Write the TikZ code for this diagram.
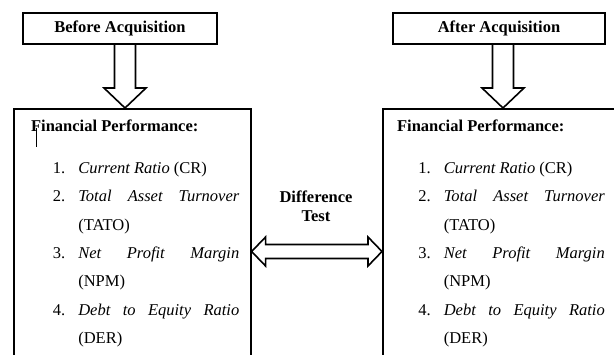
\documentclass[tikz,border=0pt]{standalone}
\usepackage{fontspec}
\setmainfont{Liberation Serif}
\usepackage{array}
\usetikzlibrary{calc}

\newcommand{\mainsz}{\fontsize{16.5}{28.3}\selectfont}
\newcommand{\jline}[1]{\makebox[161pt][s]{#1}}
\newcommand{\perflist}{%
  \begin{tabular}[t]{@{}p{25.5pt}@{}p{161pt}@{}}
  1. & \textit{Current Ratio} (CR)\\
  2. & \jline{\textit{Total Asset Turnover}}\\
     & (TATO)\\
  3. & \jline{\textit{Net Profit Margin}}\\
     & (NPM)\\
  4. & \jline{\textit{Debt to Equity Ratio}}\\
     & (DER)
  \end{tabular}}
% hollow block arrows
\newcommand{\downblock}[2]{%
  \draw[block arrow] ($(#1)+(-10.5,0)$) -- ($(#2)+(-10.5,-20)$) -- ($(#2)+(-21,-20)$) -- (#2)
    -- ($(#2)+(21,-20)$) -- ($(#2)+(10.5,-20)$) -- ($(#1)+(10.5,0)$);}
\newcommand{\twoblock}[2]{%
  \draw[block arrow] (#1) -- ($(#1)+(14,-14.5)$) -- ($(#1)+(14,-7)$) -- ($(#2)+(-14,-7)$)
    -- ($(#2)+(-14,-14.5)$) -- (#2) -- ($(#2)+(-14,14.5)$) -- ($(#2)+(-14,7)$)
    -- ($(#1)+(14,7)$) -- ($(#1)+(14,14.5)$) -- cycle;}

\begin{document}
\begin{tikzpicture}[x=1pt,y=-1pt,line width=1.6pt,
    every node/.style={font=\mainsz},
    title node/.style={rectangle,draw,font=\mainsz\bfseries,
        minimum height=31pt,inner sep=0pt},
    perf node/.style={rectangle,draw,anchor=north west,
        minimum height=300pt,inner sep=0pt},
    block arrow/.style={draw,line join=miter}]

  \clip (0,0) rectangle (614,354);

  \node[title node,minimum width=194pt] (before) at (120,28.5) {Before Acquisition};
  \node[title node,minimum width=212pt] (after) [node distance=379pt, right of=before] {After Acquisition};

  \node[perf node,minimum width=237pt] (perfL) at (13,108) {};
  \node[perf node,minimum width=260pt] (perfR) at (382,108) {};

  \node[anchor=base west,font=\mainsz\bfseries] (headL) at (27,131) {Financial Performance:};
  \node[anchor=base west,font=\mainsz\bfseries] (headR) at (393,131) {Financial Performance:};
  \node[anchor=base west,inner sep=0pt] (listL) at (52,173.5) {\perflist};
  \node[anchor=base west,inner sep=0pt] (listR) at (417.5,173.5) {\perflist};
  \draw[line width=0.6pt] (36,128) -- (36,147);

  \node[align=center,font=\fontsize{16.5}{19}\selectfont\bfseries] (diff) at (316,206) {Difference\\Test};

  \coordinate (tipL) at (125,108);
  \coordinate (tipR) at (503,108);
  \coordinate (mid) at (316,251.5);
  \downblock{before.south -| tipL}{tipL}
  \downblock{after.south -| tipR}{tipR}
  \twoblock{perfL.east |- mid}{perfR.west |- mid}
\end{tikzpicture}
\end{document}
